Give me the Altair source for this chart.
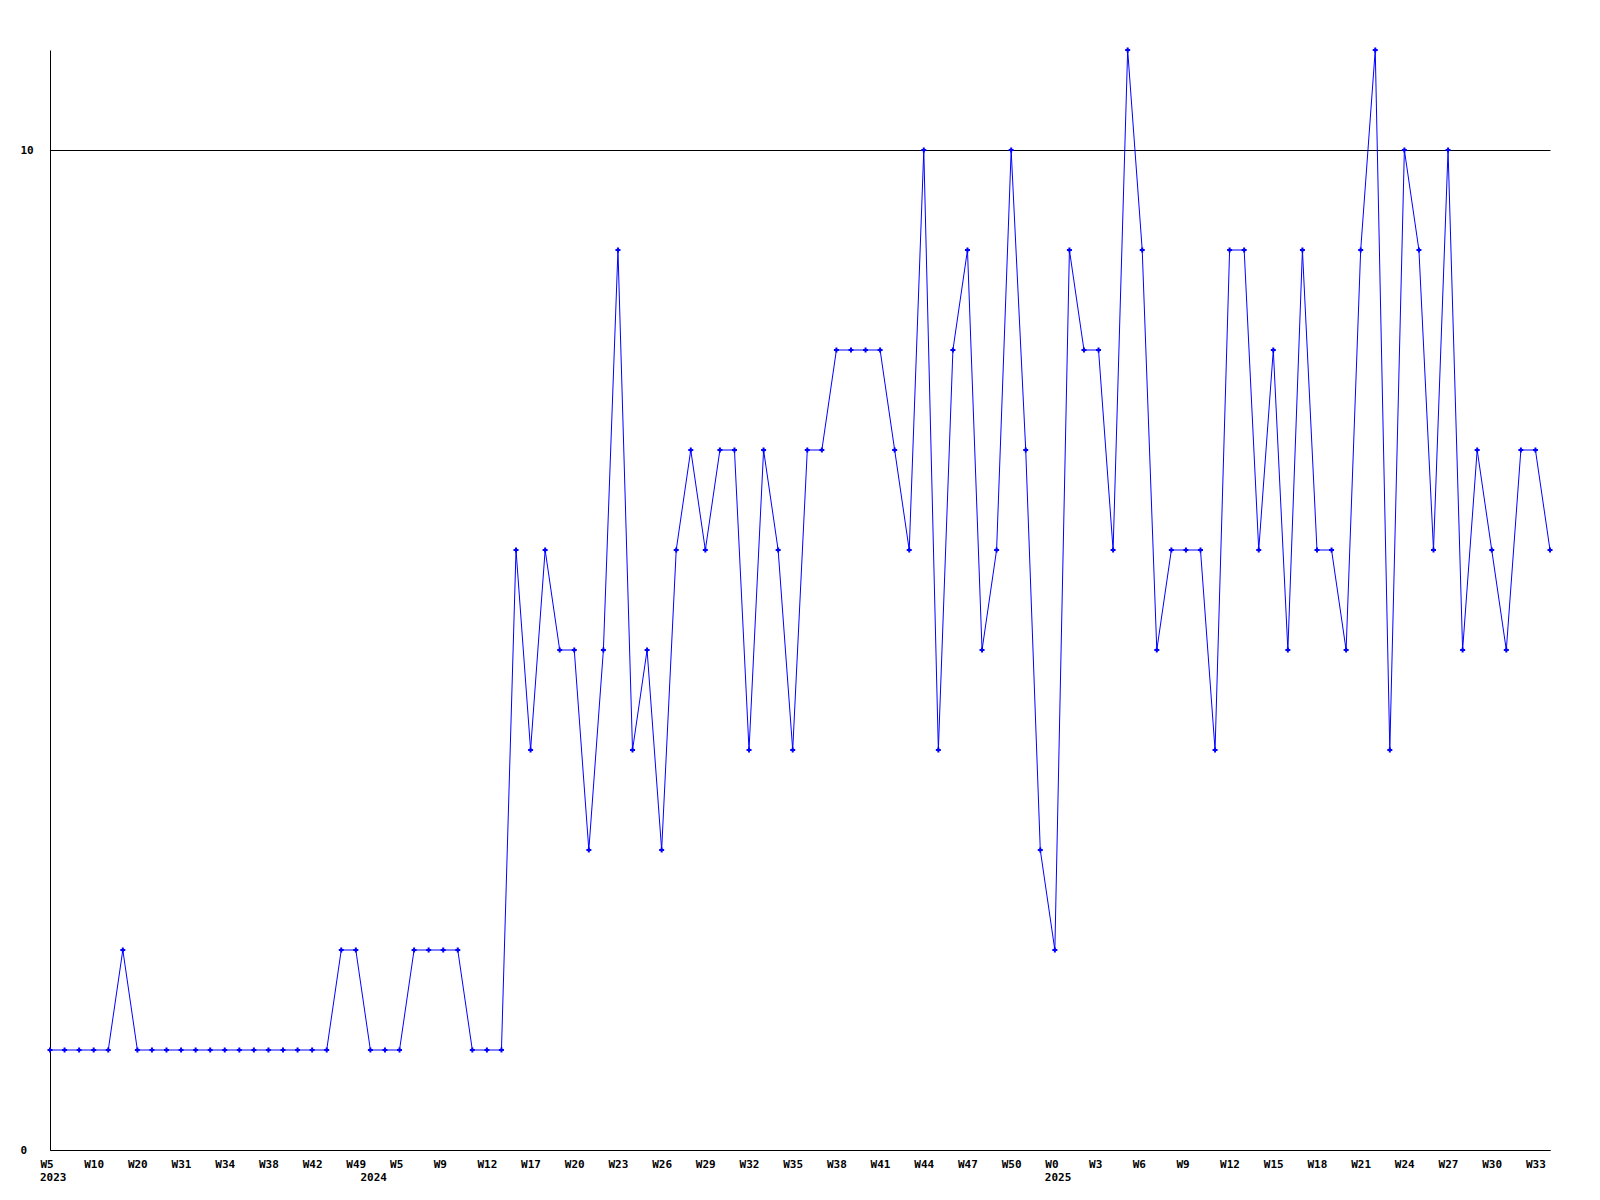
import altair as alt
import pandas as pd

# Weekly values (one per data point, left to right)
values = [1, 1, 1, 1, 1, 2, 1, 1, 1, 1, 1, 1, 1, 1, 1, 1, 1, 1, 1, 1,
          2, 2, 1, 1, 1, 2, 2, 2, 2, 1, 1, 1,
          6, 4, 6, 5, 5, 3, 5, 9, 4, 5, 3, 6, 7, 6, 7, 7, 4, 7, 6, 4,
          7, 7, 8, 8, 8, 8, 7, 6, 10, 4, 8, 9, 5, 6, 10, 7, 3, 2,
          9, 8, 8, 6, 11, 9, 5, 6, 6, 6, 4, 9, 9, 6, 8, 5, 9, 6, 6, 5,
          9, 11, 4, 10, 9, 6, 10, 5, 7, 6, 5, 7, 7, 6]

# Tick labels, one for every third point
week_labels = ["W5", "W10", "W20", "W31", "W34", "W38", "W42", "W49", "W5", "W9",
               "W12", "W17", "W20", "W23", "W26", "W29", "W32", "W35", "W38", "W41",
               "W44", "W47", "W50", "W0", "W3", "W6", "W9", "W12", "W15", "W18",
               "W21", "W24", "W27", "W30", "W33"]

# Year labels and the point index where each year starts
year_labels = ["2023", "2024", "2025"]
year_index = [0, 22, 69]

n = len(values)
df = pd.DataFrame({"i": list(range(n)), "v": values})
years = pd.DataFrame({"i": year_index, "t": year_labels})
tick_idx = list(range(0, n, 3))

FONT = "DejaVu Sans Mono"
FS = 11
W, H = 1500, 1100

label_arr = "[" + ",".join("'" + s + "'" for s in week_labels) + "]"

xscale = alt.Scale(domain=[0, n - 1], nice=False, zero=False)
yscale = alt.Scale(domain=[0, 11], nice=False, zero=True)

xaxis = alt.Axis(values=tick_idx, labelExpr=label_arr + "[round(datum.value/3)]",
                 title=None, grid=False, ticks=False, tickSize=0,
                 domainColor="black", domainWidth=1,
                 labelAlign="left", labelOffset=-10, labelBaseline="top",
                 labelPadding=8, labelFont=FONT, labelFontSize=FS,
                 labelFontWeight="bold", labelColor="black",
                 labelFlush=False, labelOverlap=False)
yaxis = alt.Axis(values=[0, 10], format="d", title=None, grid=True, gridColor="black",
                 gridOpacity=1, gridWidth=1, ticks=False, tickSize=0,
                 domainColor="black", domainWidth=1,
                 labelAlign="left", labelBaseline="middle", labelPadding=30,
                 labelFont=FONT, labelFontSize=FS, labelFontWeight="bold",
                 labelColor="black", labelFlush=False)

base = alt.Chart(df)
line = base.mark_line(color="#0000ff", strokeWidth=1).encode(
    x=alt.X("i:Q", scale=xscale, axis=xaxis),
    y=alt.Y("v:Q", scale=yscale, axis=yaxis),
)
pts = base.mark_point(shape="cross", filled=True, size=25, color="#0000ff", opacity=1).encode(
    x=alt.X("i:Q", scale=xscale),
    y=alt.Y("v:Q", scale=yscale),
)
yr = alt.Chart(years).mark_text(align="left", baseline="top", dx=-10,
                                font=FONT, fontSize=FS, fontWeight="bold",
                                color="black").encode(
    x=alt.X("i:Q", scale=xscale),
    y=alt.value(H + 22),
    text="t:N",
)

chart = alt.layer(line, pts, yr).properties(
    width=W, height=H,
    background="white",
    autosize=alt.AutoSizeParams(type="none"),
    padding={"left": 42, "top": 42, "right": 40, "bottom": 40},
).configure_view(stroke=None, strokeWidth=0)

chart.save("out.html", embed_options={"renderer": "svg", "actions": False})
